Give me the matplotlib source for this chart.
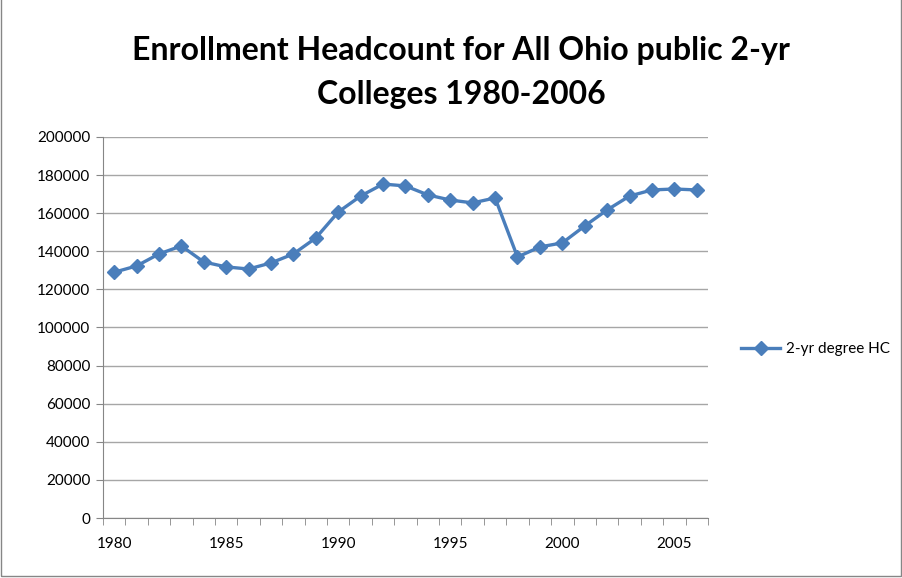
import numpy as np
import matplotlib.pyplot as plt
from matplotlib.patches import Rectangle

years = list(range(1980, 2007))
headcount = [129000, 132300, 138600, 142800, 134400, 131800, 130700, 133900,
             138600, 147000, 160600, 169000, 175300, 174300, 169600, 166900,
             165400, 168000, 137000, 142300, 144400, 153300, 161700, 169000,
             172200, 172700, 172200]
y_ticks = list(range(0, 200001, 20000))

plt.rcParams['font.family'] = ['Lato', 'DejaVu Sans']

fig = plt.figure(figsize=(9.03, 5.78), dpi=100)
ax = fig.add_axes([0.114, 0.1038, 0.670, 0.6592])

x = np.arange(len(years))
ax.plot(x, headcount, color='#4A7EBB', linewidth=2.4, marker='D',
        markersize=7, label='2-yr degree HC')

ax.set_xlim(-0.5, len(years) - 0.5)
ax.set_ylim(0, 200000)
ax.set_yticks(y_ticks)
ax.set_yticklabels([str(v) for v in y_ticks])
ax.yaxis.grid(True, color='#A6A6A6', linewidth=1)
ax.set_axisbelow(True)

major = [i for i, yr in enumerate(years) if yr % 5 == 0]
ax.set_xticks(major)
ax.set_xticklabels([str(years[i]) for i in major])
ax.set_xticks(np.arange(-0.5, len(years)), minor=True)
ax.tick_params(axis='x', which='major', length=0, pad=14, labelsize=11)
ax.tick_params(axis='x', which='minor', length=5, color='#868686')
ax.tick_params(axis='y', length=5, color='#868686', labelsize=11, pad=4)

for side in ['top', 'right']:
    ax.spines[side].set_visible(False)
for side in ['left', 'bottom']:
    ax.spines[side].set_color('#868686')

fig.text(0.511, 0.912, 'Enrollment Headcount for All Ohio public 2-yr',
         ha='center', va='center', fontsize=23, fontweight='bold')
fig.text(0.511, 0.837, 'Colleges 1980-2006',
         ha='center', va='center', fontsize=23, fontweight='bold')

fig.legend(loc='center left', bbox_to_anchor=(0.805, 0.396), frameon=False,
           fontsize=11, handlelength=2.6, handletextpad=0.4)

fig.patches.append(Rectangle((0.001, 0.004), 0.997, 1.2, transform=fig.transFigure,
                             fill=False, edgecolor='#868686', linewidth=1))

plt.savefig('out.png', dpi=100)
